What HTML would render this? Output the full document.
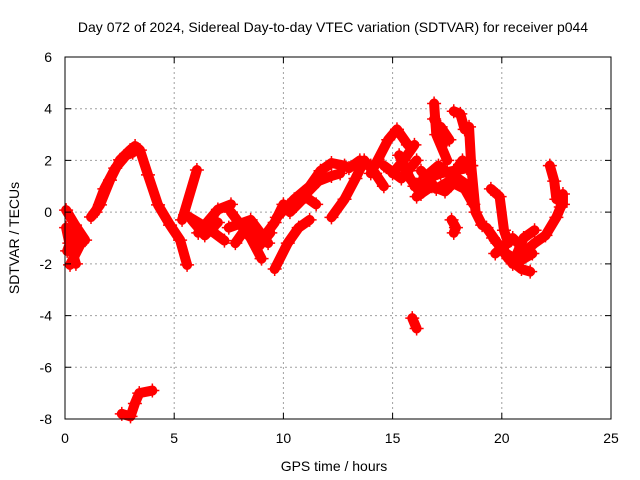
<!DOCTYPE html>
<html><head><meta charset="utf-8"><style>
body{margin:0;background:#fff}
svg{display:block;font-family:"Liberation Sans",sans-serif}
</style></head><body>
<svg id="chart" width="640" height="480" viewBox="0 0 640 480">
<rect width="640" height="480" fill="#fff"/>
<g id="grid"></g>
<g id="marks"></g>
<rect x="65" y="57" width="546" height="362" fill="none" stroke="#000" stroke-width="1"/>
<g id="ticks"></g>
<text x="333" y="32" font-size="14" text-anchor="middle">Day 072 of 2024, Sidereal Day-to-day VTEC variation (SDTVAR) for receiver p044</text>
<text x="334" y="471" font-size="14" text-anchor="middle">GPS time / hours</text>
<text transform="translate(19,238) rotate(-90)" font-size="14" text-anchor="middle">SDTVAR / TECUs</text>
</svg>
<script>
const xTicks=[0,5,10,15,20,25];
const yTicks=[-8,-6,-4,-2,0,2,4,6];
const trackTimes=[
[1.19,1.6,2.06,2.52,2.98,3.21,3.43,3.8,4.26,4.81,5.27,5.59],
[1.4,1.8,2.3,2.8,3.1],
[0.05,0.46,0.92],[0.23,0.69],[0.05,0.2,0.5],[0.1,0.4,0.6],
[5.36,6.04],
[5.5,6.5,7.3],[6.1,7.0,7.6],[5.8,6.4,7.0],
[7.5,8.5,9.3],[7.6,8.5,9.0],[8.8,9.6,10.0],[7.8,8.3,8.9,9.4],
[9.6,10.2,10.7,11.2],
[9.7,10.5,11.2,11.7,12.2,12.8],[10.8,11.6,12.2,12.6],[10.3,11.0,11.5],
[12.2,12.8,13.3,13.7,14.2,14.6],[13.0,13.5,14.0],
[14.0,14.8,15.2,15.7],[15.0,15.5,16.0],[15.3,15.8,16.3],[14.6,15.4,16.1],
[16.0,16.6,17.2,17.8,18.4,18.6],[16.3,17.0,17.6,18.3,18.7],[16.1,16.8,17.4,18.0,18.5],[16.4,17.1,17.7,18.2],
[16.9,17.0,17.5],[17.2,17.6],[17.8,18.1,18.3,18.5,18.6,18.8,19.1],[17.7,17.9,17.8],[16.9,17.1,17.3],
[19.5,19.9,20.1,20.3],[19.3,19.8,20.3,20.9,21.3],[19.7,20.5,21.1,21.5,22.0,22.5,22.7],[20.5,21.0,21.5],[19.6,20.2,20.8,21.4],
[22.2,22.4,22.5],[22.8,22.8],
[15.9,16.1],[2.6,3.0,3.2,3.4,4.0]
];
const trackValues=[
[-0.19,0.28,1.24,2.02,2.4,2.56,2.4,1.44,0.28,-0.5,-1.08,-2.04],
[0.0,0.9,1.7,2.2,2.3],
[0.08,-0.5,-1.08],[-2.04,-1.27],[-0.6,-1.2,-2.0],[-1.5,-0.8,-1.3],
[-0.3,1.63],
[-0.1,-0.6,-1.1],[-0.8,0.1,0.3],[-0.3,-0.9,-0.4],
[-0.6,-0.3,-1.2],[0.0,-1.0,-1.8],[-1.3,-0.4,0.3],[-1.2,-0.6,-1.3,-0.8],
[-2.2,-1.2,-0.6,-0.3],
[-0.2,0.5,1.0,1.6,1.9,1.8],[0.5,1.2,1.4,1.5],[0.0,0.6,0.3],
[-0.2,0.5,1.3,2.0,1.5,1.0],[1.7,2.0,1.8],
[1.5,2.8,3.2,2.6],[1.5,2.0,2.6],[2.2,1.3,0.7],[1.8,1.3,2.0],
[1.0,1.3,1.5,1.6,1.7,1.8],[1.6,0.9,1.2,0.9,0.3],[0.6,1.0,0.8,1.3,1.0],[1.3,1.8,1.4,2.0],
[4.2,3.0,2.0],[3.3,2.8],[3.9,3.8,3.2,3.3,1.8,0.0,-0.5],[-0.3,-0.6,-0.8],[3.6,3.2,2.6],
[0.9,0.6,-0.7,-1.2],[-0.6,-1.2,-1.8,-2.2,-2.3],[-1.6,-1.0,-1.5,-1.2,-0.9,-0.2,0.2],[-2.0,-1.0,-0.7],[-1.0,-1.6,-1.9,-1.6],
[1.8,1.2,0.5],[0.7,0.3],
[-4.1,-4.5],[-7.8,-7.9,-7.4,-7.0,-6.9]
];
const X0=65,X1=611,Y0=419,Y1=57;
function xs(t){return X0+(t-0)/25*(X1-X0);}
function ys(v){return Y0-(v+8)/14*(Y0-Y1);}
const NS="http://www.w3.org/2000/svg";
const grid=document.getElementById('grid'),ticks=document.getElementById('ticks'),marks=document.getElementById('marks');
function mk(tag,attrs,parent){const e=document.createElementNS(NS,tag);for(const k in attrs)e.setAttribute(k,attrs[k]);parent.appendChild(e);return e;}
xTicks.forEach(t=>{
 const x=xs(t);
 if(t>0&&t<25){const g=mk('line',{x1:x,y1:Y1,x2:x,y2:Y0,stroke:'#a0a0a0','stroke-dasharray':'2,3'},grid);
 
 }
 const tk=mk('path',{d:`M${x},${Y0}v-6M${x},${Y1}v6`,stroke:'#000'},ticks);
 
 
 const l=mk('text',{x:x,y:Y0+24,'font-size':14,'text-anchor':'middle'},ticks);l.textContent=t;
 
 
});
yTicks.forEach(v=>{
 const y=ys(v);
 if(v>-8&&v<6){const g=mk('line',{x1:X0,y1:y,x2:X1,y2:y,stroke:'#a0a0a0','stroke-dasharray':'2,3'},grid);
 
 }
 const tk=mk('path',{d:`M${X0},${y}h6M${X1},${y}h-6`,stroke:'#000'},ticks);
 
 
 const l=mk('text',{x:X0-13,y:y+5,'font-size':14,'text-anchor':'end'},ticks);l.textContent=v;
 
 
});
trackTimes.forEach((ts,i)=>{
 const vs=trackValues[i];
 const pts=ts.map((t,j)=>xs(t)+','+ys(vs[j])).join(' ');
 const pl=mk('polyline',{points:pts,fill:'none',stroke:'#ff0000','stroke-width':10,'stroke-linejoin':'round','stroke-linecap':'round'},marks);
 
 
 ts.forEach((t,j)=>{
  const x=xs(t),y=ys(vs[j]);
  const p=mk('path',{d:`M${x-7},${y}h14M${x},${y-7}v14`,stroke:'#ff0000','stroke-width':1.5},marks);
  
  
 });
});
</script>
</body></html>
